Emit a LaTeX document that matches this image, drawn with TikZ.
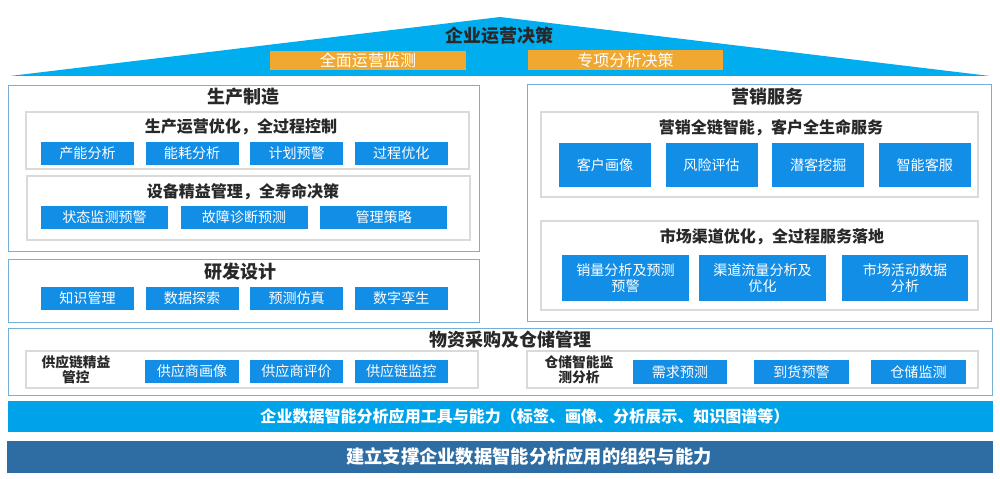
\documentclass[tikz,border=0pt]{standalone}
\usepackage{fontspec}
\setmainfont{Noto Sans CJK SC}
\usetikzlibrary{positioning,fit}
\definecolor{roofblue}{RGB}{0,174,239}
\definecolor{tagorange}{RGB}{240,168,48}
\definecolor{cellblue}{RGB}{18,142,230}
\definecolor{barblue}{RGB}{0,162,234}
\definecolor{basenavy}{RGB}{46,108,164}
\definecolor{frameblue}{RGB}{120,175,215}
\definecolor{framegray}{RGB}{218,218,218}
\definecolor{inkgray}{RGB}{40,40,40}
\begin{document}
\begin{tikzpicture}[
    x=0.025cm, y=-0.025cm,
    node distance=0.275cm,
    panel/.style={draw=frameblue, line width=0.6pt, inner sep=0pt},
    subpanel/.style={draw=framegray, line width=0.8pt, inner sep=0pt},
    head/.style={text=inkgray, font=\fontsize{12.8}{14}\selectfont\bfseries},
    subhead/.style={text=inkgray, font=\fontsize{11.4}{13}\selectfont\bfseries},
    lead/.style={text=inkgray, align=center, font=\fontsize{9.8}{10.6}\selectfont\bfseries},
    cellbox/.style={rectangle, fill=cellblue, text=white, minimum width=#1, minimum height=0.575cm, inner sep=0pt, align=center, font=\fontsize{10}{11.4}\selectfont},
    cellbox/.default=2.325cm,
    tag/.style={rectangle, fill=tagorange, text=white, minimum height=0.475cm, inner sep=0pt, font=\fontsize{11.4}{13}\selectfont},
    bigbar/.style={rectangle, inner sep=0pt, minimum width=24.625cm},
    bartext/.style={text=white, font=\fontsize{11.4}{13}\selectfont\bfseries}
]
    \useasboundingbox (0,0) rectangle (1000,479);

    % roof
    \coordinate (roofL) at (10,76);
    \coordinate (roofT) at (500,17);
    \coordinate (roofR) at (990,76);
    \fill[roofblue] (roofL) -- (roofT) -- (roofR) -- cycle;
    \node[head] (decide) at (499,36) {企业运营决策};
    \node[tag, minimum width=4.9cm] (monitor) at (368,60.5) {全面运营监测};
    \node[tag, minimum width=4.875cm] (special) at (625.5,60) {专项分析决策};

    % production
    \node[panel, fit={(8,85) (479,251)}] (prod) {};
    \node[head] (prodttl) at (243,97) {生产制造};
    \node[subpanel, fit={(26,112) (469,169)}] (opt) {};
    \node[subhead] (optttl) at (241,127) {生产运营优化，全过程控制};
    \node[cellbox] (cap) at (87.5,153.5) {产能分析};
    \node[cellbox, right=of cap] (energy) {能耗分析};
    \node[cellbox, right=of energy] (plan) {计划预警};
    \node[cellbox, right=of plan] (proc) {过程优化};
    \node[subpanel, fit={(27,176) (470,240)}] (equip) {};
    \node[subhead] (equipttl) at (243,192) {设备精益管理，全寿命决策};
    \node[cellbox=3.175cm] (state) at (104.5,217.5) {状态监测预警};
    \node[cellbox=3.175cm, right=0.3cm of state] (fault) {故障诊断预测};
    \node[cellbox=3.175cm, right=0.3cm of fault] (policy) {管理策略};

    % R&D
    \node[panel, fit={(8,259) (479,322)}] (rd) {};
    \node[head] (rdttl) at (240,272) {研发设计};
    \node[cellbox] (know) at (87.5,298.5) {知识管理};
    \node[cellbox, right=of know] (explore) {数据探索};
    \node[cellbox, right=of explore] (sim) {预测仿真};
    \node[cellbox, right=of sim] (twin) {数字孪生};

    % marketing
    \node[panel, fit={(527,84) (991,321)}] (mkt) {};
    \node[head] (mktttl) at (767,97) {营销服务};
    \node[subpanel, fit={(541,112) (978,197)}] (chain) {};
    \node[subhead] (chainttl) at (771,128) {营销全链智能，客户全生命服务};
    \node[cellbox=2.3cm, minimum height=1.1cm] (portrait) at (605,165) {客户画像};
    \node[cellbox=2.3cm, minimum height=1.1cm, right=0.35cm of portrait] (risk) {风险评估};
    \node[cellbox=2.3cm, minimum height=1.1cm, right=0.35cm of risk] (mining) {潜客挖掘};
    \node[cellbox=2.3cm, minimum height=1.1cm, right=0.35cm of mining] (service) {智能客服};
    \node[subpanel, fit={(541,221) (978,310)}] (channel) {};
    \node[subhead] (channelttl) at (772,237) {市场渠道优化，全过程服务落地};
    \node[cellbox=3.15cm, minimum height=1.15cm] (sales) at (625.5,278) {销量分析及预测\\预警};
    \node[cellbox=3.15cm, minimum height=1.15cm] (flow) at (762.5,278) {渠道流量分析及\\优化};
    \node[cellbox=3.15cm, minimum height=1.15cm] (campaign) at (905,278) {市场活动数据\\分析};

    % materials
    \node[panel, fit={(8,328) (992,395)}] (mat) {};
    \node[head] (matttl) at (510,340) {物资采购及仓储管理};
    \node[subpanel, fit={(26,351) (478,388)}] (supply) {};
    \node[lead] (supplyttl) at (76,369.5) {供应链精益\\管控};
    \node[cellbox] (supimg) at (192,371.5) {供应商画像};
    \node[cellbox, right=of supimg] (supeval) {供应商评价};
    \node[cellbox, right=of supeval] (supmon) {供应链监控};
    \node[subpanel, fit={(527,351) (978,388)}] (store) {};
    \node[lead] (storettl) at (579,369.5) {仓储智能监\\测分析};
    \node[cellbox=2.35cm] (demand) at (680,372) {需求预测};
    \node[cellbox=2.35cm] (arrive) at (801.5,372) {到货预警};
    \node[cellbox=2.35cm] (stock) at (918.5,372) {仓储监测};

    % bottom bars
    \node[bigbar, fill=barblue, minimum height=0.775cm] (tools) at (500.5,416.5) {};
    \node[bartext] (toolsttl) at (525,416.5) {企业数据智能分析应用工具与能力（标签、画像、分析展示、知识图谱等）};
    \node[bigbar, fill=basenavy, minimum height=0.8cm] (org) at (500,457) {};
    \node[bartext, font=\fontsize{13}{15}\selectfont\bfseries] (orgttl) at (529,457) {建立支撑企业数据智能分析应用的组织与能力};
\end{tikzpicture}
\end{document}
